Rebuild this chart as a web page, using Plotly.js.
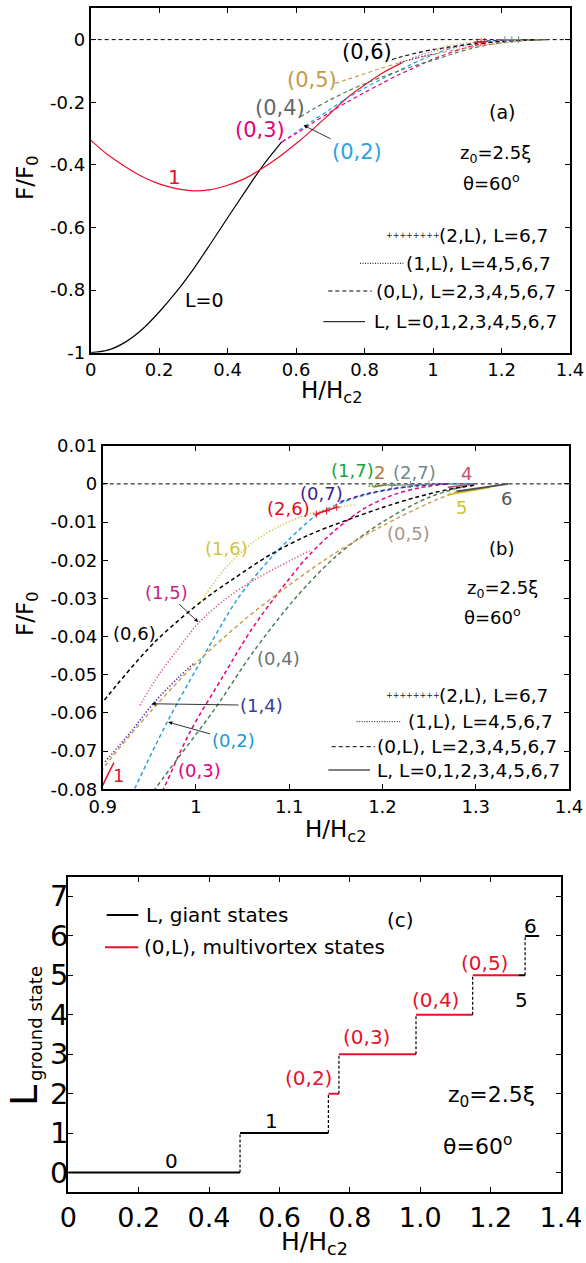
<!DOCTYPE html>
<html><head><meta charset="utf-8">
<script src="https://cdn.plot.ly/plotly-3.0.1.min.js"></script>
<style>html,body{margin:0;padding:0;background:#fff;}#chart{width:586px;height:1263px;}</style>
</head><body><div id="chart"></div>
<script>
// ---------------- DATA ----------------
// Giant-vortex states L (solid)
const xL0 = [0,0.05,0.1,0.15,0.2,0.25,0.3,0.35,0.4,0.45,0.5,0.558];
const yL0 = [-1,-0.992,-0.967,-0.926,-0.870,-0.806,-0.733,-0.652,-0.569,-0.487,-0.407,-0.327];
const xL1 = [0,0.05,0.1,0.15,0.2,0.25,0.3,0.35,0.4,0.45,0.49,0.55,0.6,0.65,0.7,0.75,0.8,0.85,0.9,0.912];
const yL1 = [-0.321,-0.368,-0.405,-0.437,-0.461,-0.476,-0.483,-0.479,-0.465,-0.444,-0.419,-0.375,-0.332,-0.285,-0.235,-0.185,-0.145,-0.108,-0.079,-0.073];
const xL2 = [1.19,1.205];   const yL2 = [-0.0008,-0.0002];
const xL4 = [1.27,1.299];   const yL4 = [-0.0009,0];
const xL5 = [1.27,1.315];   const yL5 = [-0.0029,-0.0009];
const xL6 = [1.279,1.335];  const yL6 = [-0.0020,0];
// Multivortex states (0,L) (dashed)
const x02 = [0.558,0.6,0.65,0.7,0.75,0.8,0.85,0.9,0.934,0.97,1.0025,1.045,1.08,1.1,1.129,1.15,1.18,1.22,1.26,1.3];
const y02 = [-0.327,-0.296,-0.258,-0.222,-0.186,-0.155,-0.126,-0.099,-0.080,-0.062,-0.0476,-0.030,-0.0195,-0.0145,-0.0082,-0.0055,-0.0030,-0.0010,-0.0001,0];
const x03 = [0.558,0.6,0.65,0.7,0.75,0.8,0.85,0.9,0.935,0.965,0.9936,1.03,1.06,1.09,1.12,1.15,1.18,1.21,1.24,1.27];
const y03 = [-0.327,-0.300,-0.265,-0.231,-0.199,-0.169,-0.140,-0.112,-0.095,-0.080,-0.065,-0.050,-0.038,-0.028,-0.019,-0.012,-0.0065,-0.003,-0.001,0];
const x04 = [0.612,0.65,0.7,0.75,0.8,0.85,0.9,0.956,1.02,1.06,1.106,1.15,1.2,1.25,1.29];
const y04 = [-0.247,-0.222,-0.192,-0.165,-0.141,-0.120,-0.100,-0.080,-0.059,-0.0445,-0.0301,-0.019,-0.010,-0.0035,-0.0005];
const x05 = [0.714,0.75,0.8,0.85,0.9,0.95,1.0,1.05,1.1,1.15,1.2,1.25,1.28];
const y05 = [-0.140,-0.127,-0.109,-0.091,-0.0746,-0.060,-0.047,-0.036,-0.0265,-0.018,-0.011,-0.005,-0.002];
const x06 = [0.88,0.9,0.956,1.0096,1.04,1.08,1.12,1.165,1.2,1.236,1.27,1.30];
const y06 = [-0.064,-0.0572,-0.0414,-0.0301,-0.0249,-0.0185,-0.0135,-0.0092,-0.0062,-0.0035,-0.0015,-0.0003];
const x07 = [1.155,1.18,1.21,1.24,1.27];
const y07 = [-0.0047,-0.0028,-0.0013,-0.0004,0];
// (1,L) states (dotted)
const x14 = [0.9025,0.93,0.954,0.98,0.999];
const y14 = [-0.0728,-0.065,-0.0576,-0.051,-0.0467];
const x15 = [0.94,0.96,0.98,1.0025,1.03,1.06,1.09,1.122];
const y15 = [-0.058,-0.050,-0.0435,-0.0365,-0.0305,-0.0255,-0.0215,-0.0175];
const x16 = [1.005,1.03,1.06,1.09,1.12,1.15,1.17];
const y16 = [-0.031,-0.0225,-0.0155,-0.0110,-0.0080,-0.0062,-0.0055];
const x17 = [1.185,1.2,1.215];
const y17 = [-0.0006,-0.0003,-0.0001];
// (2,L) states (plus markers)
const x26 = [1.129,1.14,1.151];
const y26 = [-0.0079,-0.0071,-0.0061];
const x27 = [1.21,1.23,1.25];
const y27 = [-0.0004,-0.0002,-0.0001];
// Panel (c): ground state transitions
const hTrans  = [0, 0.488, 0.739, 0.769, 0.988, 1.149, 1.279, 1.298, 1.338];
const lGround = [0, 1, 2, 3, 4, 5, 5, 6];
const giant   = [true, true, false, false, false, false, true, true];
// tick labels
const aXt = [0,0.2,0.4,0.6,0.8,1,1.2,1.4], aXl = ['0','0.2','0.4','0.6','0.8','1','1.2','1.4'];
const aYt = [-1,-0.8,-0.6,-0.4,-0.2,0], aYl = ['-1','-0.8','-0.6','-0.4','-0.2','0'];
const bXt = [0.9,1,1.1,1.2,1.3,1.4], bXl = ['0.9','1','1.1','1.2','1.3','1.4'];
const bYt = [-0.08,-0.07,-0.06,-0.05,-0.04,-0.03,-0.02,-0.01,0,0.01];
const bYl = ['-0.08','-0.07','-0.06','-0.05','-0.04','-0.03','-0.02','-0.01','0','0.01'];
const cXt = [0,0.2,0.4,0.6,0.8,1,1.2,1.4], cXl = ['0','0.2','0.4','0.6','0.8','1.0','1.2','1.4'];
const cYt = [0,1,2,3,4,5,6,7], cYl = ['0','1','2','3','4','5','6','7'];

// ---------------- STYLE ----------------
const FONT = 'DejaVu Sans';
const W = 586, H = 1263;
const px = v => v / W, py = v => 1 - v / H;
const DASH = '4px,3px', DOT = '1.2px,2px';
const C = {red:'#e8102a', blue:'#2aa0dc', pink:'#e6007e', green:'#4f7d58', gold:'#c9a052', black:'#000',
  purple:'#4a1f9c', navy:'#4b2aa0', mag:'#d9559a', yel:'#d4c443', grn:'#1fa33c', brown:'#b07840',
  mauve:'#c24f72', yel5:'#d4c430', grey6:'#4d4d4d', teal:'#6f8b8b'};

const traces = [];
function both(x, y, color, dash, width, mode, sym) {
  [['x','y',width.a],['x2','y2',width.b]].forEach(([xa,ya,w]) => {
    const t = {x, y, xaxis:xa, yaxis:ya, type:'scatter', mode: mode || 'lines',
      line:{color, width:w, dash, shape: (x.length > 3 && !sym) ? 'spline' : 'linear', smoothing:0.9},
      showlegend:false, hoverinfo:'skip'};
    if (sym) t.marker = {symbol:'cross-thin-open', size:5, color, line:{color, width:1}};
    traces.push(t);
  });
}
const wS = {a:1.2, b:1.5}, wD = {a:1.2, b:1.5};
both(xL0, yL0, C.black, 'solid', wS);
both(xL1, yL1, C.red, 'solid', wS);
both(xL2, yL2, C.brown, 'solid', {a:1.2,b:1.8});
both(xL4, yL4, C.mauve, 'solid', {a:1.2,b:1.8});
both(xL5, yL5, C.yel5, 'solid', {a:1.2,b:1.8});
both(xL6, yL6, C.grey6, 'solid', {a:1.2,b:1.8});
both(x02, y02, C.blue, DASH, wD);
both(x03, y03, C.pink, DASH, wD);
both(x04, y04, C.green, DASH, wD);
both(x05, y05, C.gold, DASH, wD);
both(x06, y06, C.black, DASH, wD);
both(x07, y07, C.purple, DASH, wD);
both(x14, y14, C.navy, DOT, {a:1.2,b:1.6});
both(x15, y15, C.mag, DOT, {a:1.2,b:1.6});
both(x16, y16, C.yel, DOT, {a:1.2,b:1.6});
both(x17, y17, C.grn, DOT, {a:1.2,b:1.6});
both(x26, y26, C.red, 'solid', {a:1.2,b:1.5}, 'lines+markers', true);
both(x27, y27, C.teal, 'solid', {a:1.2,b:1.2}, 'lines+markers', true);

// Panel (c) steps
for (let i = 0; i < lGround.length; i++) {
  traces.push({x:[hTrans[i], hTrans[i+1]], y:[lGround[i], lGround[i]], xaxis:'x3', yaxis:'y3',
    mode:'lines', line:{color: giant[i] ? C.black : C.red, width:2}, showlegend:false, hoverinfo:'skip'});
  if (i < lGround.length - 1 && lGround[i+1] !== lGround[i]) {
    traces.push({x:[hTrans[i+1], hTrans[i+1]], y:[lGround[i], lGround[i+1]], xaxis:'x3', yaxis:'y3',
      mode:'lines', line:{color:C.black, width:1.2, dash:'3px,2px'}, showlegend:false, hoverinfo:'skip'});
  }
}

// ---------------- AXES ----------------
function axis(domain, range, tv, tt, fs, anchor, extra) {
  return Object.assign({domain, range, tickmode:'array', tickvals:tv, ticktext:tt, ticks:'inside',
    ticklen:5, tickwidth:1, tickcolor:'#000', showline:true, linecolor:'#000', linewidth:2, mirror:'ticks',
    showgrid:false, zeroline:false, fixedrange:true, anchor,
    tickfont:{family:FONT, size:fs, color:'#000'}}, extra || {});
}
const layout = {
  width:W, height:H, margin:{l:0,r:0,t:0,b:0}, paper_bgcolor:'#fff', plot_bgcolor:'#fff',
  showlegend:false, font:{family:FONT, color:'#000'},
  xaxis:  axis([px(90.7), px(570)], [0,1.4], aXt, aXl, 18, 'y'),
  yaxis:  axis([py(352.7), py(8.3)], [-1,0.1], aYt, aYl, 18, 'x'),
  xaxis2: axis([px(102.7), px(569)], [0.9,1.4], bXt, bXl, 18, 'y2'),
  yaxis2: axis([py(789.3), py(445.7)], [-0.08,0.01], bYt, bYl, 18, 'x2'),
  xaxis3: axis([px(68.3), px(561)], [0,1.4], cXt, cXl, 27, 'y3'),
  yaxis3: axis([py(1192.3), py(876.7)], [-0.5,7.5], cYt, cYl, 29, 'x3', {showticklabels:false}),
  shapes: [], annotations: []
};

// zero reference lines
['y','y2'].forEach((ya,i) => layout.shapes.push({type:'line', xref: (i? 'x2':'x')+' domain', yref:ya,
  x0:0, x1:1, y0:0, y1:0, line:{color:'#000', width:1, dash:'4px,3px'}, layer:'below'}));

const A = layout.annotations;
// panel (c) y tick labels, set close to the frame as in the reference
cYt.forEach((v, i) => A.push({text:cYl[i], x:px(70), y:v, xref:'paper', yref:'y3', showarrow:false,
  xanchor:'right', yanchor:'middle', font:{family:FONT, size:29, color:'#000'}}));

function lab(text, x, y, color, size, xr, yr, extra) {
  A.push(Object.assign({text, x, y, xref:xr, yref:yr, showarrow:false, xanchor:'center', yanchor:'middle',
    font:{family:FONT, size, color}}, extra || {}));
}
// label with an arrow: text centred at (xt, yt), arrow head at (xh, yh)
function arrowLab(text, xt, yt, xh, yh, color, size, xr, yr) {
  A.push({text, x:xh, y:yh, ax:xt, ay:yt, xref:xr, yref:yr, axref:xr, ayref:yr, showarrow:true,
    arrowhead:2, arrowsize:1, arrowwidth:0.8, arrowcolor:'#000', standoff:0, startstandoff:0,
    font:{family:FONT, size, color}});
}
function legendRow(xs0, xs1, yy, kind, text, xt, fs) {
  if (kind === 'plus') {
    A.push({text:'++++++++', x:px((xs0+xs1)/2), y:py(yy), xref:'paper', yref:'paper', showarrow:false,
      xanchor:'center', yanchor:'middle', font:{family:FONT, size:8, color:'#222'}});
  } else {
    layout.shapes.push({type:'line', xref:'paper', yref:'paper', x0:px(xs0), x1:px(xs1), y0:py(yy), y1:py(yy),
      line:{color: kind.color || '#000', width: kind.w || 1, dash: kind.dash || 'solid'}});
  }
  A.push({text, x:px(xt), y:py(yy), xref:'paper', yref:'paper', showarrow:false, xanchor:'left', yanchor:'middle',
    font:{family:FONT, size:fs, color:'#000'}});
}

// ---- panel (a) labels
lab('(0,6)', 0.807, -0.040, '#000', 21, 'x', 'y');
lab('(0,5)', 0.646, -0.130, '#c49a4c', 21, 'x', 'y');
lab('(0,4)', 0.553, -0.220, '#5e6a6a', 21, 'x', 'y');
lab('(0,3)', 0.495, -0.289, '#e5007d', 21, 'x', 'y');
arrowLab('(0,2)', 0.778, -0.359, 0.6215, -0.2735, '#2ba3df', 21, 'x', 'y');
lab('1', 0.246, -0.439, C.red, 20, 'x', 'y');
lab('L=0', 0.331, -0.832, '#000', 19, 'x', 'y');
lab('(a)', 1.201, -0.231, '#000', 19, 'x', 'y');
lab('z<sub>0</sub>=2.5ξ', 1.182, -0.364, '#000', 18, 'x', 'y');
lab('θ=60<sup>o</sup>', 1.172, -0.455, '#000', 18, 'x', 'y');
legendRow(391.7, 435, 235.7, 'plus', '(2,L), L=6,7', 436.7, 18.5);
legendRow(360, 403.3, 263.3, {dash:'1px,1.5px'}, '(1,L), L=4,5,6,7', 404, 18.5);
legendRow(328.3, 371.7, 291, {dash:'4px,3px'}, '(0,L), L=2,3,4,5,6,7', 374, 18.5);
legendRow(323.3, 365, 321.7, {}, 'L, L=0,1,2,3,4,5,6,7', 372, 18.5);
lab('H/H<sub>c2</sub>', 0.702, 0, '#000', 23, 'x', 'paper', {y: py(392), yanchor:'middle'});
lab('F/F<sub>0</sub>', 0, 0, '#000', 23, 'paper', 'paper', {x: px(27), y: py(178), textangle:-90});

// ---- panel (b) labels
lab('(1,7)', 1.1674, 0.0035, '#1aa33c', 18, 'x2', 'y2');
lab('2', 1.197, 0.0031, '#b5783f', 18, 'x2', 'y2');
lab('(2,7)', 1.2346, 0.0031, '#6f8b8b', 18, 'x2', 'y2');
lab('4', 1.29, 0.0026, '#c2506f', 18, 'x2', 'y2');
lab('6', 1.333, -0.0039, '#555555', 18, 'x2', 'y2');
lab('5', 1.2847, -0.0061, '#d2c22e', 18, 'x2', 'y2');
lab('(0,7)', 1.1347, -0.0026, '#3f1d8e', 18, 'x2', 'y2');
lab('(2,6)', 1.0989, -0.0065, '#e30b25', 18, 'x2', 'y2');
lab('(0,5)', 1.2275, -0.0131, '#a8968a', 18, 'x2', 'y2');
lab('(b)', 1.3275, -0.017, '#000', 18, 'x2', 'y2');
lab('(1,6)', 1.0329, -0.017, '#cfc640', 18, 'x2', 'y2');
arrowLab('(1,5)', 0.9686, -0.0284, 1.0024, -0.0362, '#cc1f80', 18, 'x2', 'y2');
lab('(0,6)', 0.9346, -0.0393, '#000', 18, 'x2', 'y2');
lab('(0,4)', 1.0882, -0.0458, '#6a7474', 18, 'x2', 'y2');
arrowLab('(1,4)', 1.0703, -0.058, 0.9525, -0.0576, '#3b3b9a', 18, 'x2', 'y2');
arrowLab('(0,2)', 1.04, -0.0672, 0.9703, -0.0624, '#1a9ad2', 18, 'x2', 'y2');
lab('(0,3)', 1.0043, -0.075, '#e5007d', 18, 'x2', 'y2');
lab('1', 0.9167, -0.0764, C.red, 18, 'x2', 'y2');
lab('z<sub>0</sub>=2.5ξ', 1.329, -0.0275, '#000', 18, 'x2', 'y2');
lab('θ=60<sup>o</sup>', 1.3185, -0.0345, '#000', 18, 'x2', 'y2');
legendRow(390, 435, 696, 'plus', '(2,L), L=6,7', 436.7, 18.5);
legendRow(356.7, 401.7, 721.7, {dash:'1px,1.5px'}, '(1,L), L=4,5,6,7', 406, 18.5);
legendRow(331.7, 375, 746.7, {dash:'4px,3px'}, '(0,L), L=2,3,4,5,6,7', 375, 18.5);
legendRow(328.3, 370, 770, {}, 'L, L=0,1,2,3,4,5,6,7', 375, 18.5);
lab('H/H<sub>c2</sub>', 0, 0, '#000', 23, 'paper', 'paper', {x: px(335.8), y: py(831)});
lab('F/F<sub>0</sub>', 0, 0, '#000', 23, 'paper', 'paper', {x: px(27), y: py(614), textangle:-90});

// ---- panel (c) labels
lab('0', 0.294, 0.29, '#000', 20, 'x3', 'y3');
lab('1', 0.578, 1.30, '#000', 20, 'x3', 'y3');
lab('(0,2)', 0.682, 2.39, C.red, 20, 'x3', 'y3');
lab('(0,3)', 0.848, 3.43, C.red, 20, 'x3', 'y3');
lab('(0,4)', 1.042, 4.38, C.red, 20, 'x3', 'y3');
lab('(0,5)', 1.182, 5.30, C.red, 20, 'x3', 'y3');
lab('5', 1.288, 4.37, '#000', 20, 'x3', 'y3');
lab('6', 1.312, 6.25, '#000', 20, 'x3', 'y3');
lab('(c)', 0.943, 6.41, '#000', 20, 'x3', 'y3');
lab('z<sub>0</sub>=2.5ξ', 1.203, 1.94, '#000', 22, 'x3', 'y3');
lab('θ=60<sup>o</sup>', 1.164, 0.71, '#000', 22, 'x3', 'y3');
legendRow(106.7, 138.3, 915, {w:2}, 'L, giant states', 144, 20);
legendRow(105, 138.3, 947.3, {w:2, color:C.red}, '(0,L), multivortex states', 142, 20);
lab('H/H<sub>c2</sub>', 0, 0, '#000', 25, 'paper', 'paper', {x: px(314.7), y: py(1243)});
lab('L', 0, 0, '#000', 38, 'paper', 'paper', {x: px(24), y: py(1096), textangle:-90});
lab('ground state', 0, 0, '#000', 18, 'paper', 'paper', {x: px(35), y: py(1024), textangle:-90});

Plotly.newPlot('chart', traces, layout, {staticPlot:true, displayModeBar:false});
</script></body></html>
